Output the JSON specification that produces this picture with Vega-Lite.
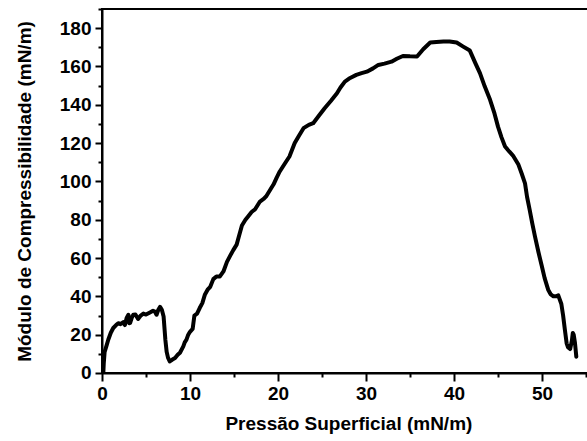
{
  "$schema": "https://vega.github.io/schema/vega-lite/v6.json",
  "autosize": {"type": "none"},
  "width": 492.8,
  "height": 364,
  "padding": {"left": 102, "top": 9, "right": 0, "bottom": 68},
  "background": "white",
  "config": {
    "view": {"stroke": "black", "strokeWidth": 2},
    "axis": {
      "labelFont": "Liberation Sans",
      "labelFontWeight": "bold",
      "labelFontSize": 19,
      "labelColor": "black",
      "titleFont": "Liberation Sans",
      "titleFontWeight": "bold",
      "titleFontSize": 19,
      "titleColor": "black",
      "domainColor": "black",
      "domainWidth": 2,
      "tickColor": "black",
      "tickWidth": 2,
      "grid": false,
      "labelFlush": false,
      "labelOverlap": false
    }
  },
  "data": {
    "values": [
      {"x": 0.15, "y": 0}, {"x": 0.2, "y": 5}, {"x": 0.3, "y": 11}, {"x": 0.5, "y": 14},
      {"x": 0.72, "y": 17.5}, {"x": 1.0, "y": 21}, {"x": 1.28, "y": 23.5}, {"x": 1.6, "y": 25},
      {"x": 1.85, "y": 26}, {"x": 2.1, "y": 25.5}, {"x": 2.42, "y": 26.5}, {"x": 2.6, "y": 25},
      {"x": 2.8, "y": 28.7}, {"x": 3.0, "y": 30.4}, {"x": 3.1, "y": 26}, {"x": 3.2, "y": 26.2},
      {"x": 3.4, "y": 29}, {"x": 3.56, "y": 30.4}, {"x": 3.8, "y": 30.5}, {"x": 4.1, "y": 28.2},
      {"x": 4.4, "y": 30}, {"x": 4.7, "y": 31}, {"x": 5.0, "y": 30.5}, {"x": 5.45, "y": 31.6},
      {"x": 5.8, "y": 32.5}, {"x": 6.0, "y": 32.1}, {"x": 6.2, "y": 30.4}, {"x": 6.4, "y": 33},
      {"x": 6.6, "y": 34.5}, {"x": 6.8, "y": 33}, {"x": 7.0, "y": 29.5}, {"x": 7.2, "y": 17.4},
      {"x": 7.35, "y": 11}, {"x": 7.5, "y": 8}, {"x": 7.7, "y": 6}, {"x": 8.0, "y": 7},
      {"x": 8.3, "y": 7.8}, {"x": 8.6, "y": 9.5}, {"x": 8.86, "y": 10.6}, {"x": 9.24, "y": 13.9},
      {"x": 9.4, "y": 16}, {"x": 9.6, "y": 17.4}, {"x": 9.8, "y": 20}, {"x": 10.0, "y": 21.5},
      {"x": 10.3, "y": 23}, {"x": 10.5, "y": 30}, {"x": 10.8, "y": 31}, {"x": 11.1, "y": 33.9},
      {"x": 11.4, "y": 36.5}, {"x": 11.7, "y": 41}, {"x": 12.0, "y": 43.5}, {"x": 12.3, "y": 45},
      {"x": 12.65, "y": 49}, {"x": 13.0, "y": 50.4}, {"x": 13.4, "y": 50.4}, {"x": 13.8, "y": 53},
      {"x": 14.2, "y": 58}, {"x": 14.6, "y": 61.5}, {"x": 14.9, "y": 64}, {"x": 15.3, "y": 67},
      {"x": 15.6, "y": 72}, {"x": 15.9, "y": 77}, {"x": 16.3, "y": 80}, {"x": 16.6, "y": 81.7},
      {"x": 17.0, "y": 84}, {"x": 17.4, "y": 85.5}, {"x": 17.95, "y": 89.5}, {"x": 18.4, "y": 91},
      {"x": 18.7, "y": 92.5}, {"x": 19.1, "y": 95.5}, {"x": 19.5, "y": 98.5}, {"x": 19.85, "y": 102},
      {"x": 20.2, "y": 105.2}, {"x": 20.8, "y": 109.5}, {"x": 21.3, "y": 113}, {"x": 21.9, "y": 120},
      {"x": 22.4, "y": 124}, {"x": 22.9, "y": 127.8}, {"x": 23.5, "y": 129.5}, {"x": 24.0, "y": 130.4},
      {"x": 24.6, "y": 134}, {"x": 25.3, "y": 138.2}, {"x": 26.0, "y": 142}, {"x": 26.7, "y": 146},
      {"x": 27.1, "y": 149}, {"x": 27.6, "y": 152.1}, {"x": 28.2, "y": 154}, {"x": 28.9, "y": 155.6},
      {"x": 29.5, "y": 156.5}, {"x": 30.1, "y": 157.3}, {"x": 30.8, "y": 159}, {"x": 31.4, "y": 160.8},
      {"x": 32.1, "y": 161.5}, {"x": 32.9, "y": 162.5}, {"x": 33.5, "y": 164}, {"x": 34.2, "y": 165.5},
      {"x": 35.0, "y": 165.3}, {"x": 35.8, "y": 165.2}, {"x": 36.5, "y": 169}, {"x": 37.3, "y": 172.5},
      {"x": 38.0, "y": 172.8}, {"x": 38.8, "y": 173}, {"x": 39.5, "y": 173}, {"x": 40.3, "y": 172.5},
      {"x": 41.0, "y": 170.5}, {"x": 41.8, "y": 168.3}, {"x": 42.4, "y": 162}, {"x": 42.95, "y": 156.5},
      {"x": 43.5, "y": 149.5}, {"x": 44.1, "y": 142.6}, {"x": 44.6, "y": 135.5}, {"x": 45.0, "y": 128.6},
      {"x": 45.4, "y": 123}, {"x": 45.8, "y": 118.2}, {"x": 46.3, "y": 115.5}, {"x": 46.7, "y": 113.5},
      {"x": 47.3, "y": 109}, {"x": 47.7, "y": 104}, {"x": 48.07, "y": 99}, {"x": 48.3, "y": 92},
      {"x": 48.6, "y": 85.2}, {"x": 48.9, "y": 78}, {"x": 49.2, "y": 71.3}, {"x": 49.6, "y": 63},
      {"x": 49.97, "y": 56}, {"x": 50.3, "y": 49.5}, {"x": 50.7, "y": 43.5}, {"x": 51.0, "y": 41},
      {"x": 51.3, "y": 40}, {"x": 51.6, "y": 40}, {"x": 51.85, "y": 40.5}, {"x": 52.2, "y": 36},
      {"x": 52.4, "y": 30}, {"x": 52.6, "y": 22.6}, {"x": 52.8, "y": 15.5}, {"x": 52.95, "y": 13.5},
      {"x": 53.2, "y": 12.5}, {"x": 53.4, "y": 17}, {"x": 53.5, "y": 20.9}, {"x": 53.6, "y": 20},
      {"x": 53.75, "y": 15.6}, {"x": 53.9, "y": 8.5}
    ]
  },
  "mark": {"type": "line", "color": "black", "strokeWidth": 4, "strokeJoin": "round", "strokeCap": "round", "clip": true},
  "encoding": {
    "x": {
      "field": "x",
      "type": "quantitative",
      "scale": {"domain": [0, 56], "nice": false, "zero": false},
      "axis": {
        "title": "Pressão Superficial (mN/m)",
        "values": [0, 5, 10, 15, 20, 25, 30, 35, 40, 45, 50, 55],
        "labelExpr": "datum.value % 10 === 0 ? datum.label : ''",
        "tickSize": {"condition": {"test": "datum.value % 10 === 0", "value": 8}, "value": 4},
        "labelPadding": 4,
        "titlePadding": 11
      }
    },
    "y": {
      "field": "y",
      "type": "quantitative",
      "scale": {"domain": [0, 190], "nice": false},
      "axis": {
        "title": "Módulo de Compressibilidade (mN/m)",
        "values": [0, 10, 20, 30, 40, 50, 60, 70, 80, 90, 100, 110, 120, 130, 140, 150, 160, 170, 180, 190],
        "labelExpr": "datum.value % 20 === 0 ? datum.label : ''",
        "tickSize": {"condition": {"test": "datum.value % 20 === 0", "value": 7}, "value": 4},
        "labelPadding": 4,
        "titlePadding": 25
      }
    }
  }
}
